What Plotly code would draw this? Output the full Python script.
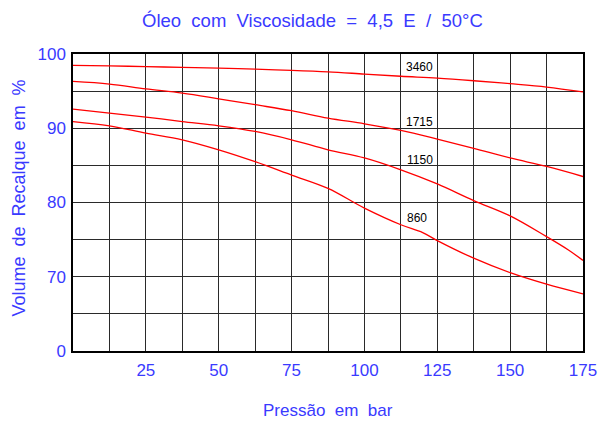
import plotly.graph_objects as go

pressure = [0, 12.5, 25, 37.5, 50, 62.5, 75, 87.5, 100, 112.5, 125, 137.5, 150, 162.5, 175]
v3460 = [98.46, 98.4, 98.3, 98.2, 98.1, 97.95, 97.8, 97.6, 97.3, 97.0, 96.75, 96.4, 96.0, 95.55, 94.9]
v1715 = [96.3, 95.95, 95.3, 94.74, 93.97, 93.17, 92.36, 91.37, 90.6, 89.7, 88.54, 87.3, 86.0, 84.85, 83.5]
p1150 = [0, 12.5, 25, 37.5, 50, 62.5, 75, 87.5, 100, 112.5, 125, 137.5, 150, 162.5, 170, 175]
v1150 = [92.58, 92.04, 91.5, 90.9, 90.33, 89.57, 88.45, 87.1, 86.0, 84.4, 82.5, 80.26, 78.2, 75.4, 73.6, 72.2]
p860 = [0, 12.5, 25, 37.5, 50, 62.5, 75, 87.5, 100, 112.5, 120, 125, 137.5, 150, 162.5, 175]
v860 = [90.9, 90.33, 89.35, 88.45, 87.1, 85.5, 83.7, 81.9, 79.24, 77.0, 75.95, 74.87, 72.5, 70.55, 69.0, 67.7]

curve_labels = ["3460", "1715", "1150", "860"]
label_x = [118.9, 118.9, 118.9, 118.2]
label_y = [98.2, 90.86, 85.7, 77.86]

x_ticks = [i * 12.5 for i in range(15)]
x_ticktext = ["" if (i % 2 == 1 or i == 0) else str(int(i * 12.5)) for i in range(15)]
y_ticks = [60, 65, 70, 75, 80, 85, 90, 95, 100]
y_ticktext = ["0", "", "70", "", "80", "", "90", "", "100"]

title = "Óleo com Viscosidade = 4,5 E / 50°C"
x_title = "Pressão em bar"
y_title = "Volume de Recalque em %"


def wide(s):
    return s.replace(" ", "\u00a0\u00a0")


blue = "#3a3aff"
font_family = "Liberation Sans, Arial, sans-serif"
tick_family = "Liberation Sans Narrow, Arial Narrow, sans-serif"

fig = go.Figure()
for xs, ys in [(pressure, v3460), (pressure, v1715), (p1150, v1150), (p860, v860)]:
    fig.add_trace(go.Scatter(x=xs, y=ys, mode="lines", line=dict(color="#ff0000", width=1.3),
                             line_shape="spline", showlegend=False, hoverinfo="skip"))

for t, lx, ly in zip(curve_labels, label_x, label_y):
    fig.add_annotation(x=lx, y=ly, text=t, showarrow=False, xref="x", yref="y",
                       font=dict(color="black", size=12, family=font_family))

fig.add_annotation(x=0.5, y=1.0, xref="paper", yref="paper", xanchor="center", yanchor="middle",
                   xshift=-16, yshift=34, text=wide(title), showarrow=False,
                   font=dict(color=blue, size=18.5, family=font_family))
fig.add_annotation(x=0.5, y=0, xref="paper", yref="paper", xanchor="center", yanchor="middle",
                   xshift=0, yshift=-59, text=wide(x_title), showarrow=False,
                   font=dict(color=blue, size=17, family=font_family))
fig.add_annotation(x=0, y=0.5, xref="paper", yref="paper", xanchor="center", yanchor="middle",
                   xshift=-55, yshift=4, text=wide(y_title), showarrow=False, textangle=-90,
                   font=dict(color=blue, size=18, family=font_family))

fig.update_layout(
    width=601, height=414,
    margin=dict(l=65, r=17, t=46, b=71),
    paper_bgcolor="white", plot_bgcolor="white",
)
fig.update_xaxes(range=[0, 175], tickmode="array", tickvals=x_ticks, ticktext=x_ticktext,
                 showgrid=True, gridcolor="#2a2a2a", gridwidth=1.2, showline=True, linecolor="black",
                 linewidth=1.5, mirror=True, zeroline=False, ticks="", ticklabelstandoff=3,
                 tickfont=dict(color=blue, size=17, family=tick_family))
fig.update_yaxes(range=[60, 100], tickmode="array", tickvals=y_ticks, ticktext=y_ticktext,
                 showgrid=True, gridcolor="#2a2a2a", gridwidth=1.2, showline=True, linecolor="black",
                 linewidth=1.5, mirror=True, zeroline=False, ticks="", ticklabelstandoff=2,
                 tickfont=dict(color=blue, size=17, family=tick_family))

fig.write_html("out.html", config={"displayModeBar": False})
